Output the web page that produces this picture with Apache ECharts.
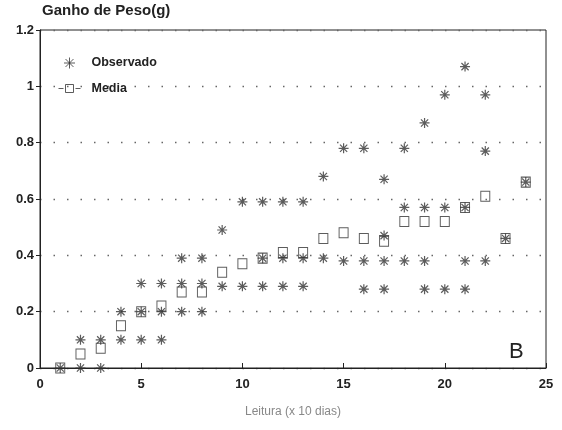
<!DOCTYPE html>
<html>
<head>
<meta charset="utf-8">
<script src="https://cdn.jsdelivr.net/npm/echarts@6/dist/echarts.min.js"></script>
<style>html,body{margin:0;padding:0;background:#fff}#c{width:562px;height:430px}</style>
</head>
<body>
<div id="c"></div>
<script>
// Leitura (x 10 dias)
var readings = [1,2,3,4,5,6,7,8,9,10,11,12,13,14,15,16,17,18,19,20,21,22,23,24];
// Observed weight gains (g) for each reading
var observed = [
  [0],
  [0, 0.1],
  [0, 0.1],
  [0.1, 0.2],
  [0.1, 0.2, 0.3],
  [0.1, 0.2, 0.3],
  [0.2, 0.3, 0.39],
  [0.2, 0.3, 0.39],
  [0.29, 0.49],
  [0.29, 0.59],
  [0.29, 0.39, 0.59],
  [0.29, 0.39, 0.59],
  [0.29, 0.39, 0.59],
  [0.39, 0.68],
  [0.38, 0.78],
  [0.28, 0.38, 0.78],
  [0.28, 0.38, 0.47, 0.67],
  [0.38, 0.57, 0.78],
  [0.28, 0.38, 0.57, 0.87],
  [0.28, 0.57, 0.97],
  [0.28, 0.38, 0.57, 1.07],
  [0.38, 0.77, 0.97],
  [0.46],
  [0.66]
];
// Mean weight gain (g) for each reading
var media = [0, 0.05, 0.07, 0.15, 0.2, 0.22, 0.27, 0.27, 0.34, 0.37, 0.39, 0.41, 0.41, 0.46, 0.48, 0.46, 0.45, 0.52, 0.52, 0.52, 0.57, 0.61, 0.46, 0.66];
var yTicks = [0, 0.2, 0.4, 0.6, 0.8, 1, 1.2];
var xTicks = [0, 5, 10, 15, 20, 25];

var obsData = [];
readings.forEach(function(r, i){ observed[i].forEach(function(v){ obsData.push([r, v]); }); });
var meanData = readings.map(function(r, i){ return [r, media[i]]; });

var asterisk = 'path://M0,-5L0,5M-5,0L5,0M-3.6,-3.6L3.6,3.6M-3.6,3.6L3.6,-3.6';
var legendMedia = 'path://M0,5L5,5M7,1L15,1L15,9L7,9ZM17,5L22,5';
var font = 'Liberation Sans, Arial, sans-serif';

var chart = echarts.init(document.getElementById('c'), null, {renderer: 'canvas'});
chart.setOption({
  animation: false,
  backgroundColor: '#fff',
  grid: {left: 40, right: 16, top: 30, bottom: 62, show: true, borderColor: '#222', borderWidth: 1, backgroundColor: 'transparent'},
  legend: {
    orient: 'vertical', left: 51, top: 50, itemGap: 11, itemWidth: 22, itemHeight: 11,
    textStyle: {fontFamily: font, fontSize: 12.5, color: '#222', fontWeight: 'bold', padding: [0,0,0,6]},
    data: [
      {name: 'Observado', icon: asterisk, itemStyle: {color: 'none', borderColor: '#333', borderWidth: 1}},
      {name: 'Media', icon: legendMedia, itemStyle: {color: 'none', borderColor: '#333', borderWidth: 1}}
    ]
  },
  xAxis: {
    type: 'value', min: 0, max: 25, interval: 5,
    name: 'Leitura (x 10 dias)', nameLocation: 'middle', nameGap: 38,
    nameTextStyle: {fontFamily: font, fontSize: 12, color: '#888'},
    axisLine: {show: true, lineStyle: {color: '#222', width: 1}},
    axisTick: {show: true, inside: true, length: 5, lineStyle: {color: '#222'}},
    axisLabel: {fontFamily: font, fontSize: 13, color: '#222', margin: 10, fontWeight: 'bold',
      formatter: function(v){ return xTicks.indexOf(v) >= 0 ? String(v) : ''; }},
    splitLine: {show: false}
  },
  yAxis: {
    type: 'value', min: 0, max: 1.2, interval: 0.2,
    name: 'Ganho de Peso(g)', nameLocation: 'end', nameGap: 12,
    nameTextStyle: {fontFamily: font, fontSize: 15, color: '#222', align: 'left', fontWeight: 'bold', padding: [0,0,0,2]},
    axisLine: {show: true, lineStyle: {color: '#222', width: 1}},
    axisTick: {show: true, inside: false, length: 4, lineStyle: {color: '#222'}},
    axisLabel: {fontFamily: font, fontSize: 13, color: '#222', margin: 6, fontWeight: 'bold',
      formatter: function(v){ var r = Math.round(v*10)/10; return yTicks.indexOf(r) >= 0 ? String(r) : ''; }},
    splitLine: {show: true, lineStyle: {color: '#666', width: 1.3, type: [1.5, 12]}}
  },
  graphic: [{type: 'text', left: 509, top: 341, style: {text: 'B', fontFamily: font, fontSize: 22, fill: '#222'}}],
  series: [
    {name: 'Observado', type: 'scatter', data: obsData, symbol: asterisk, symbolSize: 10,
      itemStyle: {color: 'none', borderColor: '#333', borderWidth: 1.2}, z: 3},
    {name: 'Media', type: 'scatter', data: meanData, symbol: 'rect', symbolSize: [9, 10],
      itemStyle: {color: 'none', borderColor: '#333', borderWidth: 1}, z: 2}
  ]
});
</script>
</body>
</html>
